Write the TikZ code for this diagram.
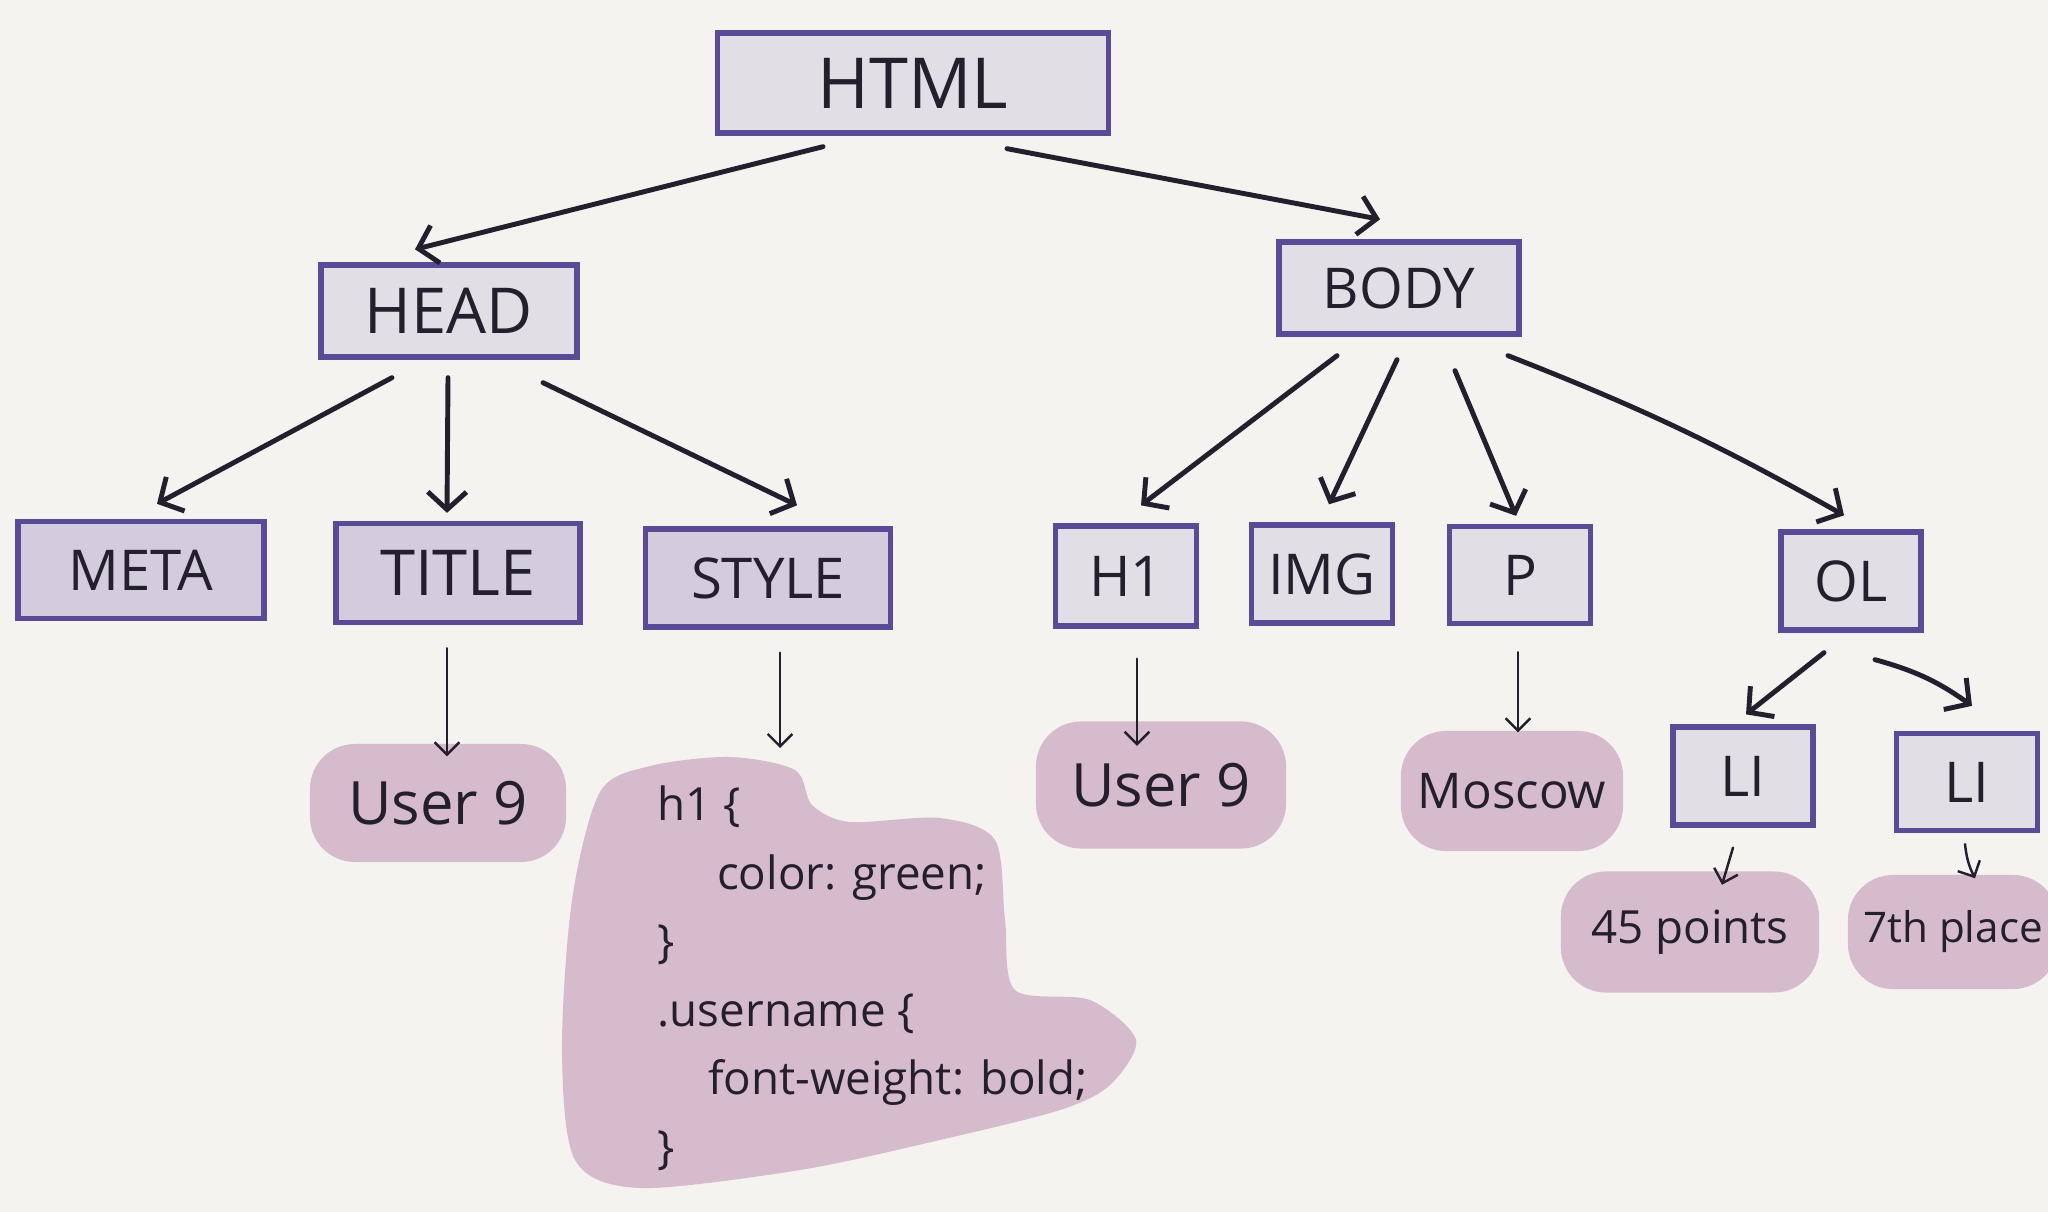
\documentclass[tikz,border=0pt]{standalone}
\usepackage{fontspec}
\setmainfont{Open Sans}
\usetikzlibrary{arrows,arrows.meta,shapes}
\definecolor{paper}{RGB}{244,243,240}
\definecolor{boxline}{RGB}{91,74,150}
\definecolor{boxfill}{RGB}{226,222,230}
\definecolor{boxdark}{RGB}{211,204,221}
\definecolor{blob}{RGB}{214,187,205}
\definecolor{ink}{RGB}{35,31,45}

\begin{document}
\begin{tikzpicture}[x=0.01cm, y=-0.01cm,
    tag/.style={draw=boxline, line width=1.5pt, fill=boxfill, text=ink, inner sep=0pt, font=\fontsize{16}{19}\selectfont},
    value/.style={fill=blob, rounded corners=0.45cm, text=ink, inner sep=0pt},
    link/.style={-{Straight Barb[length=5pt,width=11pt]}, line width=1.4pt, draw=ink, line cap=round},
    leaflink/.style={-{Straight Barb[length=3.5pt,width=7pt]}, line width=0.7pt, draw=ink, line cap=round}]

            % Paper
            \fill[paper] (0,0) rectangle (2048,1212);
            \useasboundingbox (0,0) rectangle (2048,1212);

            % Root and first level
            \node[tag, minimum width=3.91cm, minimum height=1cm, font=\fontsize{20}{24}\selectfont] (html) at (913,83) {HTML};
            \node[tag, minimum width=2.56cm, minimum height=0.92cm, font=\fontsize{18}{22}\selectfont] (head) at (449,311) {HEAD};
            \node[tag, minimum width=2.40cm, minimum height=0.92cm] (body) at (1399,288) {BODY};

            % Head children
            \node[tag, fill=boxdark, minimum width=2.46cm, minimum height=0.97cm] (meta) at (141,570) {META};
            \node[tag, fill=boxdark, minimum width=2.44cm, minimum height=0.99cm, font=\fontsize{18}{22}\selectfont] (title) at (458,573) {TITLE};
            \node[tag, fill=boxdark, minimum width=2.45cm, minimum height=0.98cm] (style) at (768,578) {STYLE};

            % Body children
            \node[tag, minimum width=1.41cm, minimum height=1cm] (h1) at (1126,576) {H1};
            \node[tag, minimum width=1.41cm, minimum height=0.98cm] (img) at (1322,574) {IMG};
            \node[tag, minimum width=1.41cm, minimum height=0.97cm] (p) at (1520,575) {P};
            \node[tag, minimum width=1.40cm, minimum height=0.98cm] (ol) at (1851,581) {OL};
            \node[tag, minimum width=1.40cm, minimum height=0.98cm] (li1) at (1743,776) {LI};
            \node[tag, minimum width=1.41cm, minimum height=0.97cm] (li2) at (1967,782) {LI};

            % Text values
            \node[value, minimum width=2.56cm, minimum height=1.18cm, font=\fontsize{17}{20}\selectfont] (user1) at (438,803) {User 9};
            \node[value, minimum width=2.50cm, minimum height=1.27cm, font=\fontsize{17}{20}\selectfont] (user2) at (1161,785) {User 9};
            \node[value, minimum width=2.22cm, minimum height=1.20cm, font=\fontsize{14}{17}\selectfont] (city) at (1512,791) {Moscow};
            \node[value, minimum width=2.58cm, minimum height=1.21cm, font=\fontsize{13}{16}\selectfont] (points) at (1690,932) {45 points};
            \node[value, minimum width=2.10cm, minimum height=1.14cm, font=\fontsize{12}{15}\selectfont] (place) at (1953,932) {7th place};

            % Style sheet blob
            \fill[blob] plot[smooth cycle, tension=0.5] coordinates {(600,792) (650,766) (730,757) (795,770) (812,805) (850,822) (940,818) (995,840) (1005,920) (1015,990) (1090,1000) (1136,1040) (1110,1085) (1060,1110) (940,1140) (800,1170) (640,1188) (575,1160) (562,1050) (572,900)};
            \coordinate (sheet) at (780,748);
            \node[anchor=north west, align=left, text=ink, inner sep=0pt, font=\fontsize{13}{19.5}\selectfont] (css) at (657,785) {h1 \{\\
                \hspace*{1.3em}color: green;\\
                \}\\
                .username \{\\
                \hspace*{1.1em}font-weight: bold;\\
                \}};

            % Arrows between tags
            \draw[link] ([shift={(-90,11)}]html.south) -- ([shift={(-34,-13)}]head.north);
            \draw[link] ([shift={(94,13)}]html.south) -- ([shift={(-19,-20)}]body.north);
            \draw[link] ([shift={(-57,18)}]head.south) -- ([shift={(16,-15)}]meta.north);
            \draw[link] ([shift={(-1,18)}]head.south) -- ([shift={(-11,-8)}]title.north);
            \draw[link] ([shift={(94,23)}]head.south) -- ([shift={(29,-21)}]style.north);
            \draw[link] ([shift={(-62,19)}]body.south) -- ([shift={(15,-18)}]h1.north);
            \draw[link] ([shift={(-2,23)}]body.south) -- ([shift={(7,-18)}]img.north);
            \draw[link] ([shift={(56,34)}]body.south) -- ([shift={(-4,-8)}]p.north);
            \draw[link] ([shift={(109,19)}]body.south) to[bend left=4] ([shift={(-7,-14)}]ol.north);
            \draw[link] ([shift={(-27,20)}]ol.south) -- ([shift={(3,-10)}]li1.north);
            \draw[link] ([shift={(24,27)}]ol.south) to[bend left=10] ([shift={(5,-25)}]li2.north);

            % Arrows to values
            \draw[leaflink] ([shift={(-11,23)}]title.south) -- ([shift={(9,13)}]user1.north);
            \draw[leaflink] ([shift={(12,23)}]style.south) -- (sheet);
            \draw[leaflink] ([shift={(11,30)}]h1.south) -- ([shift={(-24,25)}]user2.north);
            \draw[leaflink] ([shift={(-2,26)}]p.south) -- ([shift={(6,2)}]city.north);
            \draw[leaflink] ([shift={(-10,20)}]li1.south) -- ([shift={(32,14)}]points.north);
            \draw[leaflink] ([shift={(-2,11)}]li2.south) to[bend right=10] ([shift={(22,4)}]place.north);
\end{tikzpicture}
\end{document}
